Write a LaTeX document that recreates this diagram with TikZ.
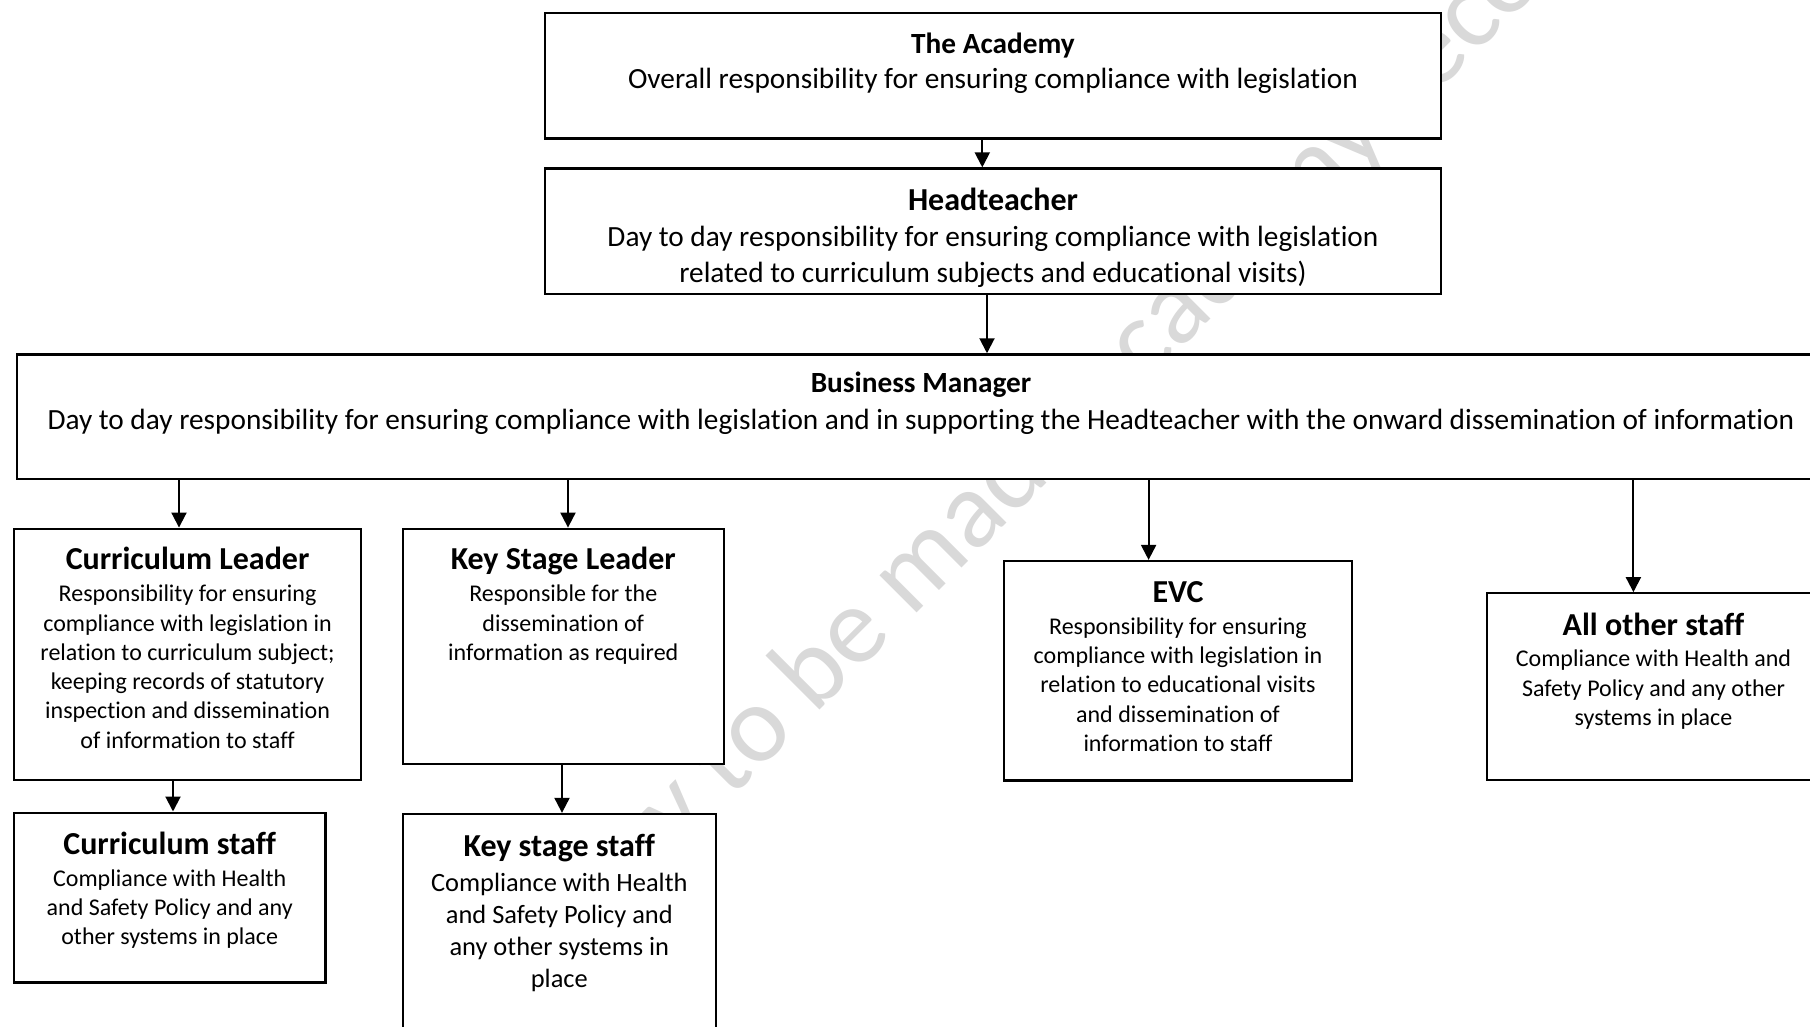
\documentclass[tikz,border=0pt]{standalone}
\usepackage{fontspec}
\setmainfont{Carlito}[Ligatures=NoCommon]
\usetikzlibrary{arrows.meta}
\begin{document}
\begin{tikzpicture}[x=1pt,y=-1pt,
  box/.style={draw, line width=2.3pt, fill=white, inner sep=0pt},
  arr/.style={line width=2pt, -{Triangle[width=15pt,length=15pt]}},
  ttl/.style={anchor=base, inner sep=0pt, font={\fontsize{32}{39}\selectfont\bfseries}},
  ttlsm/.style={anchor=base, inner sep=0pt, font={\fontsize{29.3}{35.8}\selectfont\bfseries}},
  bdyL/.style={anchor=north, inner sep=0pt, align=center, font={\fontsize{29.3}{35.8}\selectfont}},
  bdyM/.style={anchor=north, inner sep=0pt, align=center, font={\fontsize{26.4}{32.2}\selectfont}},
  bdyS/.style={anchor=north, inner sep=0pt, align=center, font={\fontsize{24}{29.3}\selectfont}},
  wm/.style={inner sep=0pt, text=black!15, font={\fontsize{110}{120}\selectfont}}
]
\path[use as bounding box, clip] (0,0) rectangle (1810,1027);
\fill[white] (0,0) rectangle (1810,1027);

% watermark (behind the boxes)
\node[wm, rotate=45, anchor=base west] (wmark) at (678,852) {y to be made academy record};

% boxes
\node[box, minimum width=896pt, minimum height=125.8pt] (acad) at (993,75.6) {};
\node[box, minimum width=896pt, minimum height=125.8pt] (head) at (993,231.4) {};
\node[box, minimum width=1808pt, minimum height=124.6pt] (bm) at (921,416.7) {};
\node[box, minimum width=347.4pt, minimum height=251.6pt] (cl) at (187.6,654.5) {};
\node[box, minimum width=321pt, minimum height=235.5pt] (ksl) at (563.3,646.5) {};
\node[box, minimum width=347.4pt, minimum height=219.3pt] (evc) at (1178,670.7) {};
\node[box, minimum width=333pt, minimum height=187pt] (aos) at (1653.5,686.8) {};
\node[box, minimum width=311.6pt, minimum height=169.7pt] (cs) at (169.7,897.5) {};
\node[box, minimum width=313pt, minimum height=236pt] (kss) at (559.3,932) {};

% texts
\node[ttlsm] (acadT) at (993,53.5) {The Academy};
\node[bdyL] (acadB) at (993,63.5) {\rule{0pt}{25pt}Overall responsibility for ensuring compliance with legislation};

\node[ttl] (headT) at (993,211) {Headteacher};
\node[bdyL] (headB) at (993,221.7) {\rule{0pt}{25pt}Day to day responsibility for ensuring compliance with legislation\\related to curriculum subjects and educational visits)};

\node[ttlsm] (bmT) at (921,392.5) {Business Manager};
\node[bdyL] (bmB) at (921,404) {\rule{0pt}{25pt}Day to day responsibility for ensuring compliance with legislation and in supporting the Headteacher with the onward dissemination of information};

\node[ttl] (clT) at (187.6,569.5) {Curriculum Leader};
\node[bdyS] (clB) at (187.6,580.5) {\rule{0pt}{21pt}Responsibility for ensuring\\compliance with legislation in\\relation to curriculum subject;\\keeping records of statutory\\inspection and dissemination\\of information to staff};

\node[ttl] (kslT) at (563.3,569.5) {Key Stage Leader};
\node[bdyS] (kslB) at (563.3,580.5) {\rule{0pt}{21pt}Responsible for the\\dissemination of\\information as required};

\node[ttl] (evcT) at (1178,602.5) {EVC};
\node[bdyS] (evcB) at (1178,613) {\rule{0pt}{21pt}Responsibility for ensuring\\compliance with legislation in\\relation to educational visits\\and dissemination of\\information to staff};

\node[ttl] (aosT) at (1653.5,635) {All other staff};
\node[bdyS] (aosB) at (1653.5,645.5) {\rule{0pt}{21pt}Compliance with Health and\\Safety Policy and any other\\systems in place};

\node[ttl] (csT) at (169.7,854.5) {Curriculum staff};
\node[bdyS] (csB) at (169.7,865) {\rule{0pt}{21pt}Compliance with Health\\and Safety Policy and any\\other systems in place};

\node[ttl] (kssT) at (559.3,856) {Key stage staff};
\node[bdyM] (kssB) at (559.3,868) {\rule{0pt}{23pt}Compliance with Health\\and Safety Policy and\\any other systems in\\place};

% connectors
\draw[arr] (982.3,0 |- acad.south) -- (982.3,0 |- head.north);
\draw[arr] (987,0 |- head.south) -- (987,0 |- bm.north);
\draw[arr] (179,0 |- bm.south) -- (179,0 |- cl.north);
\draw[arr] (568,0 |- bm.south) -- (568,0 |- ksl.north);
\draw[arr] (1148.6,0 |- bm.south) -- (1148.6,0 |- evc.north);
\draw[arr] (1633.4,0 |- bm.south) -- (1633.4,0 |- aos.north);
\draw[arr] (173,0 |- cl.south) -- (173,0 |- cs.north);
\draw[arr] (562,0 |- ksl.south) -- (562,0 |- kss.north);
\end{tikzpicture}
\end{document}
